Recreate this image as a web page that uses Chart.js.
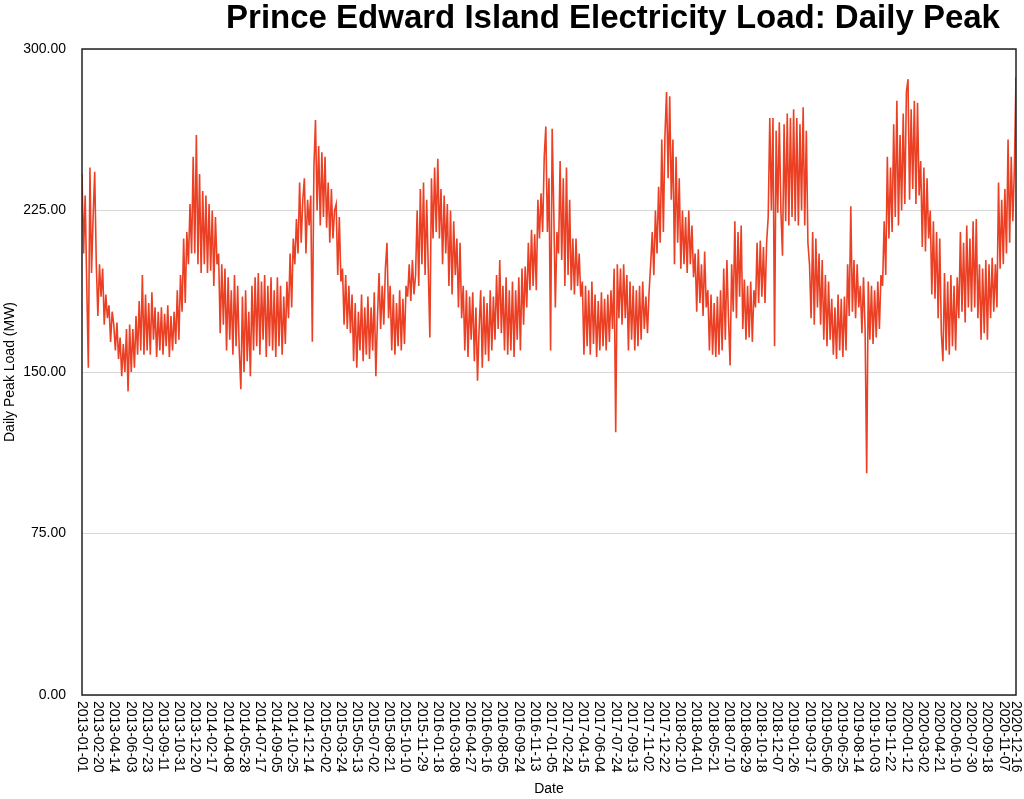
<!DOCTYPE html>
<html>
<head>
<meta charset="utf-8">
<script src="https://cdn.jsdelivr.net/npm/chart.js@4.4.1/dist/chart.umd.min.js"></script>
<style>
  html, body { margin: 0; padding: 0; background: #fff; }
</style>
</head>
<body>
<canvas id="loadChart" width="1024" height="799"></canvas>
<script>
// tick labels shown under the x axis, one every 50 rows, last one is the final row
const tickLabels = [
  "2013-01-01","2013-02-20","2013-04-14","2013-06-03","2013-07-23","2013-09-11","2013-10-31","2013-12-20",
  "2014-02-17","2014-04-08","2014-05-28","2014-07-17","2014-09-05","2014-10-25","2014-12-14",
  "2015-02-02","2015-03-24","2015-05-13","2015-07-02","2015-08-21","2015-10-10","2015-11-29",
  "2016-01-18","2016-03-08","2016-04-27","2016-06-16","2016-08-05","2016-09-24","2016-11-13",
  "2017-01-05","2017-02-24","2017-04-15","2017-06-04","2017-07-24","2017-09-13","2017-11-02","2017-12-22",
  "2018-02-10","2018-04-01","2018-05-21","2018-07-10","2018-08-29","2018-10-18","2018-12-07",
  "2019-01-26","2019-03-17","2019-05-06","2019-06-25","2019-08-14","2019-10-03","2019-11-22",
  "2020-01-12","2020-03-02","2020-04-21","2020-06-10","2020-07-30","2020-09-18","2020-11-07",
  "2020-12-16"
];
const rowsPerTick = 50;
const lastRow = 2889;

// daily peak load (MW), about one value every 5 rows
const peakLoad = [
  242,205,232,190,152,245,196,222,243,200,
  176,200,185,198,172,186,175,181,164,178,
  172,160,173,156,166,148,163,150,170,141,
  172,150,170,152,176,158,183,160,195,158,
  186,160,182,158,187,165,180,157,178,160,
  180,158,177,162,181,157,176,160,178,163,
  188,165,195,178,212,182,215,200,228,205,
  250,205,260,200,242,196,234,200,232,196,
  228,197,225,190,222,200,205,168,200,172,
  198,160,194,165,188,158,195,162,190,160,
  142,185,150,188,155,178,148,190,160,194,
  162,196,158,192,165,195,157,190,162,194,
  160,188,157,194,162,190,158,185,163,192,
  175,205,180,212,200,221,205,238,210,230,
  240,205,230,218,232,164,245,267,225,255,
  218,252,222,250,217,238,210,235,212,225,
  228,195,222,192,198,172,195,170,190,168,
  186,155,182,152,178,160,186,155,180,158,
  185,156,180,160,187,148,175,196,170,190,
  172,198,210,175,190,160,186,158,182,162,
  188,160,184,163,190,185,200,183,202,186,
  195,225,190,235,200,238,195,230,198,166,
  240,212,245,215,249,212,235,200,232,205,
  228,190,225,186,220,195,212,180,210,175,
  190,160,188,157,185,165,187,155,180,146,
  170,188,152,185,158,182,155,188,160,185,
  165,195,170,202,168,190,160,194,158,188,
  160,192,157,188,165,194,160,198,172,199,
  180,210,188,216,190,214,188,230,212,233,
  215,250,264,215,240,160,263,225,180,215,
  205,248,202,240,190,245,195,230,188,212,
  186,212,190,205,185,192,158,190,162,188,
  158,192,163,186,157,183,160,187,162,184,
  160,186,164,188,170,198,122,200,175,198,
  172,200,175,195,160,192,165,190,160,188,
  162,190,165,192,170,185,168,187,200,215,
  195,225,205,236,210,258,215,260,280,240,
  278,230,258,200,250,210,240,198,225,200,
  222,196,225,200,218,194,205,178,207,182,
  200,176,206,180,188,160,186,158,182,157,
  185,158,188,160,198,165,202,175,153,200,
  178,220,175,215,185,218,170,193,165,190,
  166,192,164,188,180,210,182,211,185,208,
  182,210,222,268,225,268,162,262,224,266,
  225,204,265,220,270,218,268,222,272,220,
  268,218,265,225,273,218,262,210,200,175,
  215,172,212,180,205,172,202,165,195,162,
  192,165,184,158,180,156,186,160,184,157,
  185,160,200,176,227,178,202,175,200,180,
  190,168,194,170,103,192,165,190,163,188,
  166,192,170,195,190,220,195,250,212,245,
  215,265,222,276,218,260,225,270,228,280,
  286,230,272,235,276,228,275,232,248,208,
  245,206,240,212,225,186,220,184,215,175,
  212,168,155,196,160,192,158,195,162,190,
  160,194,175,215,178,210,173,218,180,212,
  178,220,180,221,175,200,165,198,168,202,
  165,200,175,203,178,200,180,238,198,230,
  200,235,205,258,210,250,220,245,287
];

const titleText = "Prince Edward Island Electricity Load: Daily Peak";
const fontFamily = "'Liberation Sans', Arial, Helvetica, sans-serif";

const points = peakLoad.map((v, k) => ({ x: k * lastRow / (peakLoad.length - 1), y: v }));
const tickRows = tickLabels.map((_, j) => j === tickLabels.length - 1 ? lastRow : j * rowsPerTick);

// frame round the plot, rotated date labels and the title
const decorations = {
  id: 'decorations',
  afterDraw(chart) {
    const ctx = chart.ctx;
    const area = chart.chartArea;
    const xs = chart.scales.x;
    ctx.save();
    ctx.strokeStyle = '#222';
    ctx.lineWidth = 1.5;
    ctx.strokeRect(area.left, area.top, area.right - area.left, area.bottom - area.top);

    ctx.fillStyle = '#000';
    ctx.font = '14px ' + fontFamily;
    ctx.textAlign = 'left';
    ctx.textBaseline = 'middle';
    tickLabels.forEach((t, j) => {
      const px = xs.getPixelForValue(tickRows[j]);
      ctx.save();
      ctx.translate(px, area.bottom + 6);
      ctx.rotate(Math.PI / 2);
      ctx.fillText(t, 0, 0);
      ctx.restore();
    });

    ctx.font = 'bold 33px ' + fontFamily;
    ctx.textAlign = 'center';
    ctx.fillText(titleText, 613, 19);
    ctx.restore();
  }
};

new Chart(document.getElementById('loadChart').getContext('2d'), {
  type: 'line',
  data: {
    datasets: [{
      label: 'Daily Peak Load (MW)',
      data: points,
      borderColor: 'rgb(235, 64, 36)',
      borderWidth: 1.6,
      pointRadius: 0,
      tension: 0,
      fill: false
    }]
  },
  options: {
    responsive: false,
    animation: false,
    layout: { padding: { top: 49, right: 8, left: 0, bottom: 0 } },
    plugins: {
      legend: { display: false },
      tooltip: { enabled: false },
      title: { display: false }
    },
    scales: {
      x: {
        type: 'linear',
        min: 0,
        max: lastRow,
        grid: { display: false },
        border: { display: false },
        ticks: { display: false },
        title: { display: true, text: 'Date', color: '#000', font: { family: fontFamily, size: 14 }, padding: { top: 0, bottom: 1 } },
        afterFit(scale) { scale.height = 104; }
      },
      y: {
        min: 0,
        max: 300,
        ticks: { stepSize: 75, callback: v => v.toFixed(2), color: '#000', font: { family: fontFamily, size: 14 }, padding: 16 },
        grid: { color: '#d6d6d6', drawTicks: false },
        border: { display: false },
        title: { display: true, text: 'Daily Peak Load (MW)', color: '#000', font: { family: fontFamily, size: 14 }, padding: { top: 2, bottom: 0 } },
        afterFit(scale) { scale.width = 82; }
      }
    }
  },
  plugins: [decorations]
});
</script>
</body>
</html>
